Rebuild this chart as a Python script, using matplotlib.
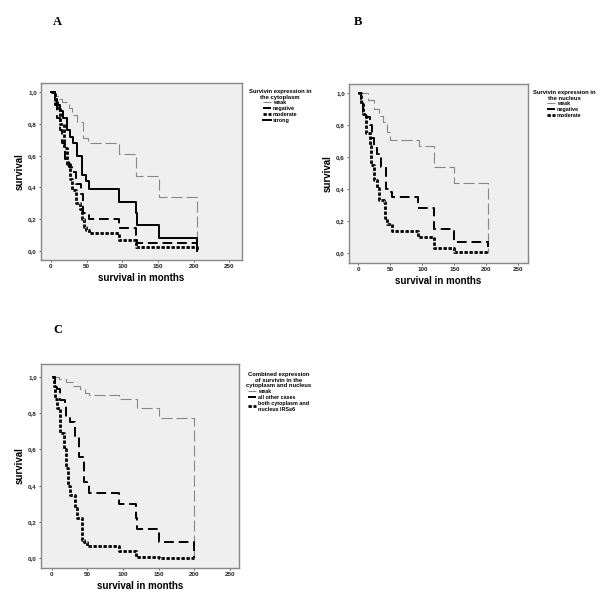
import matplotlib
matplotlib.use("Agg")
import matplotlib.pyplot as plt
from matplotlib.lines import Line2D

# ---- Panel A: cytoplasm ----
a_weak_t = [0, 5, 10, 15, 25, 30, 36, 45, 52, 95, 119, 152, 204, 204]
a_weak_s = [1.0, 0.98, 0.96, 0.94, 0.90, 0.86, 0.81, 0.71, 0.68, 0.61, 0.47, 0.34, 0.34, 0.0]
a_neg_t = [0, 5, 8, 12, 15, 20, 25, 30, 35, 42, 45, 53, 95, 119, 121, 151, 204, 204]
a_neg_s = [1.0, 0.92, 0.84, 0.76, 0.68, 0.58, 0.53, 0.50, 0.42, 0.36, 0.24, 0.20, 0.14, 0.10, 0.05, 0.05, 0.02, 0.02]
a_mod_t = [0, 5, 8, 12, 18, 22, 26, 30, 35, 40, 44, 46, 49, 53, 95, 119, 204, 204]
a_mod_s = [1.0, 0.95, 0.90, 0.80, 0.65, 0.55, 0.45, 0.38, 0.30, 0.26, 0.20, 0.15, 0.13, 0.11, 0.07, 0.02, 0.0, 0.0]
a_str_t = [0, 5.6, 9, 12.6, 17, 22, 26.5, 31, 36, 44, 49, 53.5, 95.4, 118.7, 121, 151, 204, 204]
a_str_s = [1.0, 0.96, 0.92, 0.88, 0.84, 0.76, 0.72, 0.68, 0.60, 0.48, 0.44, 0.39, 0.31, 0.24, 0.16, 0.08, 0.08, 0.0]

# ---- Panel B: nucleus ----
b_weak_t = [0, 15, 25, 32, 38, 45, 50, 95, 118, 149, 202, 202]
b_weak_s = [1.0, 0.96, 0.90, 0.86, 0.82, 0.76, 0.71, 0.67, 0.54, 0.44, 0.44, 0.0]
b_neg_t = [0, 5, 8, 12, 18, 22, 25, 30, 35, 44, 48, 52, 94, 118, 149, 202, 202]
b_neg_s = [1.0, 0.94, 0.88, 0.85, 0.80, 0.72, 0.66, 0.62, 0.54, 0.40, 0.38, 0.35, 0.28, 0.15, 0.07, 0.07, 0.04]
b_mod_t = [0, 5, 8, 12, 18, 20, 24, 30, 33, 40, 42, 45, 52, 94, 118, 149, 202, 202]
b_mod_s = [1.0, 0.93, 0.87, 0.75, 0.67, 0.55, 0.46, 0.41, 0.33, 0.32, 0.22, 0.18, 0.14, 0.10, 0.03, 0.01, 0.01, 0.0]

# ---- Panel C: combined ----
c_weak_t = [0, 10, 20, 30, 40, 47, 52, 94, 120, 150, 200, 200]
c_weak_s = [1.0, 0.99, 0.97, 0.95, 0.93, 0.91, 0.90, 0.88, 0.83, 0.77, 0.77, 0.0]
c_oth_t = [0, 5, 8, 12, 18, 20, 25, 32, 38, 45, 49, 52, 95, 118, 120, 150, 200, 200]
c_oth_s = [1.0, 0.95, 0.93, 0.87, 0.85, 0.78, 0.75, 0.67, 0.56, 0.42, 0.41, 0.36, 0.30, 0.22, 0.16, 0.09, 0.09, 0.0]
c_both_t = [0, 3, 5, 8, 12, 17, 20, 23, 26, 32, 35, 43, 45, 50, 95, 118, 150, 200, 200]
c_both_s = [1.0, 0.95, 0.88, 0.83, 0.69, 0.60, 0.50, 0.40, 0.35, 0.28, 0.22, 0.10, 0.09, 0.07, 0.04, 0.01, 0.0, 0.0, 0.0]

x_ticks = [0, 50, 100, 150, 200, 250]
y_ticks = [0.0, 0.2, 0.4, 0.6, 0.8, 1.0]
y_tick_labels = ["0,0", "0,2", "0,4", "0,6", "0,8", "1,0"]

plt.rcParams['font.family'] = ['Liberation Sans', 'DejaVu Sans']

W, H = 600, 605
fig = plt.figure(figsize=(6, 6.05), dpi=100)

STY = {
    'weak': dict(color='#888888', lw=0.8, dashes=(10, 3.5)),
    'neg': dict(color='black', lw=1.4, dashes=(5, 2.5)),
    'mod': dict(color='black', lw=2.0, dashes=(1.2, 0.6)),
    'str': dict(color='black', lw=1.4),
}

def px_axes(l, r, t, b):
    return fig.add_axes([l / W, 1 - b / H, (r - l) / W, (b - t) / H])

def style(ax, xlim, ylim):
    ax.set_facecolor('#efefef')
    ax.set_xlim(*xlim)
    ax.set_ylim(*ylim)
    ax.set_xticks(x_ticks)
    ax.set_xticklabels([str(v) for v in x_ticks], fontsize=4.5, fontweight='bold')
    ax.set_yticks(y_ticks)
    ax.set_yticklabels(y_tick_labels, fontsize=4.5, fontweight='bold')
    ax.tick_params(length=1.5, width=0.5, pad=1.5, colors='#222222')
    for s in ax.spines.values():
        s.set_color('#888888')
        s.set_linewidth(1.0)
    ax.set_xlabel('survival in months', fontsize=7, fontweight='bold', labelpad=3)
    ax.set_ylabel('survival', fontsize=7, fontweight='bold', labelpad=2)

def step(ax, t, s, key):
    ax.plot(t, s, drawstyle='steps-post', **STY[key])

# Panel A
axA = px_axes(41, 242, 83, 260)
style(axA, (-14, 267.6), (-0.059, 1.059))
step(axA, a_weak_t, a_weak_s, 'weak')
step(axA, a_neg_t, a_neg_s, 'neg')
step(axA, a_mod_t, a_mod_s, 'mod')
step(axA, a_str_t, a_str_s, 'str')

# Panel B
axB = px_axes(349, 528, 84, 263)
style(axB, (-14.5, 265), (-0.061, 1.058))
step(axB, b_weak_t, b_weak_s, 'weak')
step(axB, b_neg_t, b_neg_s, 'neg')
step(axB, b_mod_t, b_mod_s, 'mod')

# Panel C
axC = px_axes(41, 239, 364, 568)
style(axC, (-15, 262.7), (-0.053, 1.07))
step(axC, c_weak_t, c_weak_s, 'weak')
step(axC, c_oth_t, c_oth_s, 'neg')
step(axC, c_both_t, c_both_s, 'mod')

def make_legend(x, y, title, keys, labels):
    handles = [Line2D([0], [0], **dict(STY[k])) for k in keys]
    leg = fig.legend(handles, labels, title=title, loc='upper left',
                     bbox_to_anchor=(x / W, 1 - y / H), frameon=False,
                     fontsize=3.9, title_fontsize=4.2, handlelength=1.6,
                     handletextpad=0.3, labelspacing=0.15, borderpad=0,
                     alignment='center')
    leg.get_title().set_fontweight('bold')
    leg.get_title().set_multialignment('center')
    for t in leg.get_texts():
        t.set_fontweight('bold')
    return leg

make_legend(246, 86, 'Survivin expression in\nthe cytoplasm',
            ['weak', 'neg', 'mod', 'str'], ['weak', 'negative', 'moderate', 'strong'])
make_legend(530, 87, 'Survivin expression in\nthe nucleus',
            ['weak', 'neg', 'mod'], ['weak', 'negative', 'moderate'])
make_legend(243, 369, 'Combined expression\nof survivin in the\ncytoplasm and nucleus',
            ['weak', 'neg', 'mod'], ['weak', 'all other cases', 'both cytoplasm and\nnucleus IRS\u22656'])

for lbl, x, y in [('A', 57, 22), ('B', 358, 22), ('C', 58, 330)]:
    fig.text(x / W, 1 - y / H, lbl, fontsize=9, fontweight='bold',
             family=['Liberation Serif', 'DejaVu Serif'], ha='center', va='center')

fig.savefig('out.png', dpi=100, facecolor='white')
